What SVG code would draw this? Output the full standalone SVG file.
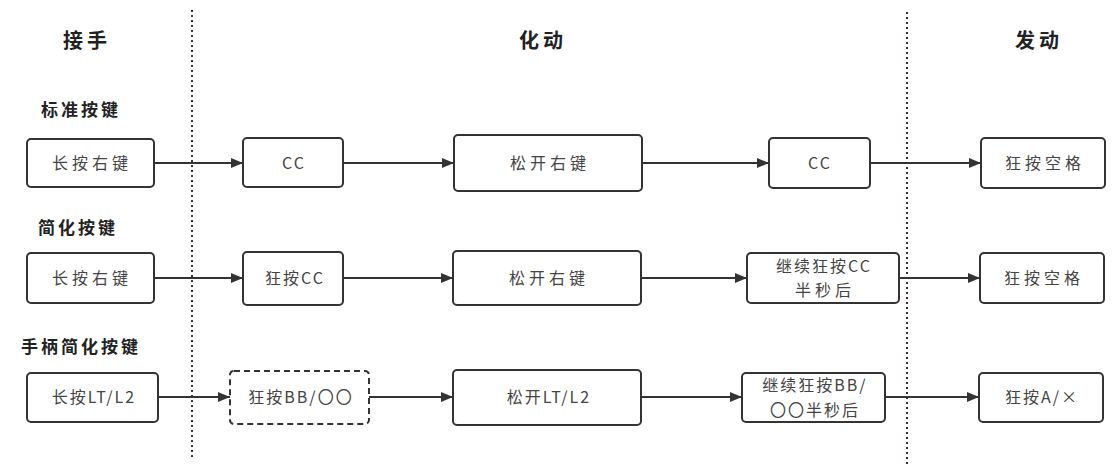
<svg xmlns="http://www.w3.org/2000/svg" width="1120" height="474" viewBox="0 0 1120 474">
<defs>
<style>
.bg{fill:#ffffff}
.box{fill:#ffffff;stroke:#333333;stroke-width:2}
.dash{stroke-dasharray:6 4}
.t{font-family:"Noto Sans CJK SC","Noto Sans",sans-serif;font-size:16px;fill:#444444;text-anchor:middle;letter-spacing:4px}
.m{letter-spacing:2px}
.h{font-family:"Noto Sans CJK SC","Noto Sans",sans-serif;font-size:20px;font-weight:bold;fill:#222222;text-anchor:middle;letter-spacing:4px}
.r{font-family:"Noto Sans CJK SC","Noto Sans",sans-serif;font-size:17px;font-weight:bold;fill:#222222;letter-spacing:3px}
.c{stroke:#333333;stroke-width:2;fill:none;marker-end:url(#arr)}
.sep{stroke:#333333;stroke-width:2;stroke-dasharray:2 3;fill:none}
</style>
<marker id="arr" markerWidth="12" markerHeight="10" refX="12" refY="5" orient="auto" markerUnits="userSpaceOnUse">
<path d="M0,0 L12,5 L0,10 Z" fill="#333333"/>
</marker>
</defs>
<rect class="bg" x="0" y="0" width="1120" height="474"/>
<g id="separators">
<line class="sep" x1="192" y1="10" x2="192" y2="457"/>
<line class="sep" x1="907" y1="12" x2="907" y2="466" style="stroke:#3a2a2a"/>
</g>
<g id="headers">
<text class="h" x="87" y="48">接手</text>
<text class="h" x="543" y="48">化动</text>
<text class="h" x="1039" y="48">发动</text>
</g>
<g id="row-labels">
<text class="r" x="41" y="116">标准按键</text>
<text class="r" x="38" y="234">简化按键</text>
<text class="r" x="21" y="353">手柄简化按键</text>
</g>
<g id="connectors">
<line class="c" x1="154" y1="163" x2="243" y2="163"/>
<line class="c" x1="343" y1="163" x2="454" y2="163"/>
<line class="c" x1="642" y1="163" x2="769" y2="163"/>
<line class="c" x1="870" y1="163" x2="981" y2="163"/>
<line class="c" x1="154" y1="278" x2="243" y2="278"/>
<line class="c" x1="343" y1="278" x2="453" y2="278"/>
<line class="c" x1="641" y1="278" x2="747" y2="278"/>
<line class="c" x1="899" y1="278" x2="980" y2="278"/>
<line class="c" x1="158" y1="397" x2="230" y2="397"/>
<line class="c" x1="369" y1="397" x2="453" y2="397"/>
<line class="c" x1="641" y1="397" x2="742" y2="397"/>
<line class="c" x1="885" y1="397" x2="979" y2="397"/>
</g>
<g id="n1a"><rect class="box" x="27" y="139" width="127" height="48" rx="4"/><text class="t" x="92" y="169">长按右键</text></g>
<g id="n1b"><rect class="box" x="243" y="138" width="100" height="49" rx="4"/><text class="t m" x="294" y="169">CC</text></g>
<g id="n1c"><rect class="box" x="454" y="135" width="188" height="56" rx="4"/><text class="t" x="550" y="169">松开右键</text></g>
<g id="n1d"><rect class="box" x="769" y="138" width="101" height="50" rx="4"/><text class="t m" x="820" y="169">CC</text></g>
<g id="n1e"><rect class="box" x="981" y="138" width="124" height="50" rx="4"/><text class="t" x="1045" y="169">狂按空格</text></g>
<g id="n2a"><rect class="box" x="27" y="253" width="127" height="50" rx="4"/><text class="t" x="92" y="284">长按右键</text></g>
<g id="n2b"><rect class="box" x="243" y="252" width="100" height="53" rx="4"/><text class="t m" x="295" y="284">狂按CC</text></g>
<g id="n2c"><rect class="box" x="453" y="251" width="188" height="54" rx="4"/><text class="t" x="549" y="284">松开右键</text></g>
<g id="n2d"><rect class="box" x="747" y="253" width="152" height="50" rx="4"/><text class="t m" x="824" y="272">继续狂按CC</text><text class="t" x="825" y="296">半秒后</text></g>
<g id="n2e"><rect class="box" x="980" y="253" width="124" height="50" rx="4"/><text class="t" x="1044" y="284">狂按空格</text></g>
<g id="n3a"><rect class="box" x="27" y="373" width="131" height="49" rx="4"/><text class="t m" x="94" y="403">长按LT/L2</text></g>
<g id="n3b"><rect class="box dash" x="230" y="371" width="139" height="53" rx="4"/><text class="t m" x="301" y="403">狂按BB/〇〇</text></g>
<g id="n3c"><rect class="box" x="453" y="370" width="188" height="55" rx="4"/><text class="t m" x="549" y="403">松开LT/L2</text></g>
<g id="n3d"><rect class="box" x="742" y="373" width="143" height="49" rx="4"/><text class="t m" x="815" y="391">继续狂按BB/</text><text class="t m" x="815" y="416">〇〇半秒后</text></g>
<g id="n3e"><rect class="box" x="979" y="373" width="124" height="49" rx="4"/><text class="t m" x="1042" y="403">狂按A/×</text></g>
</svg>
